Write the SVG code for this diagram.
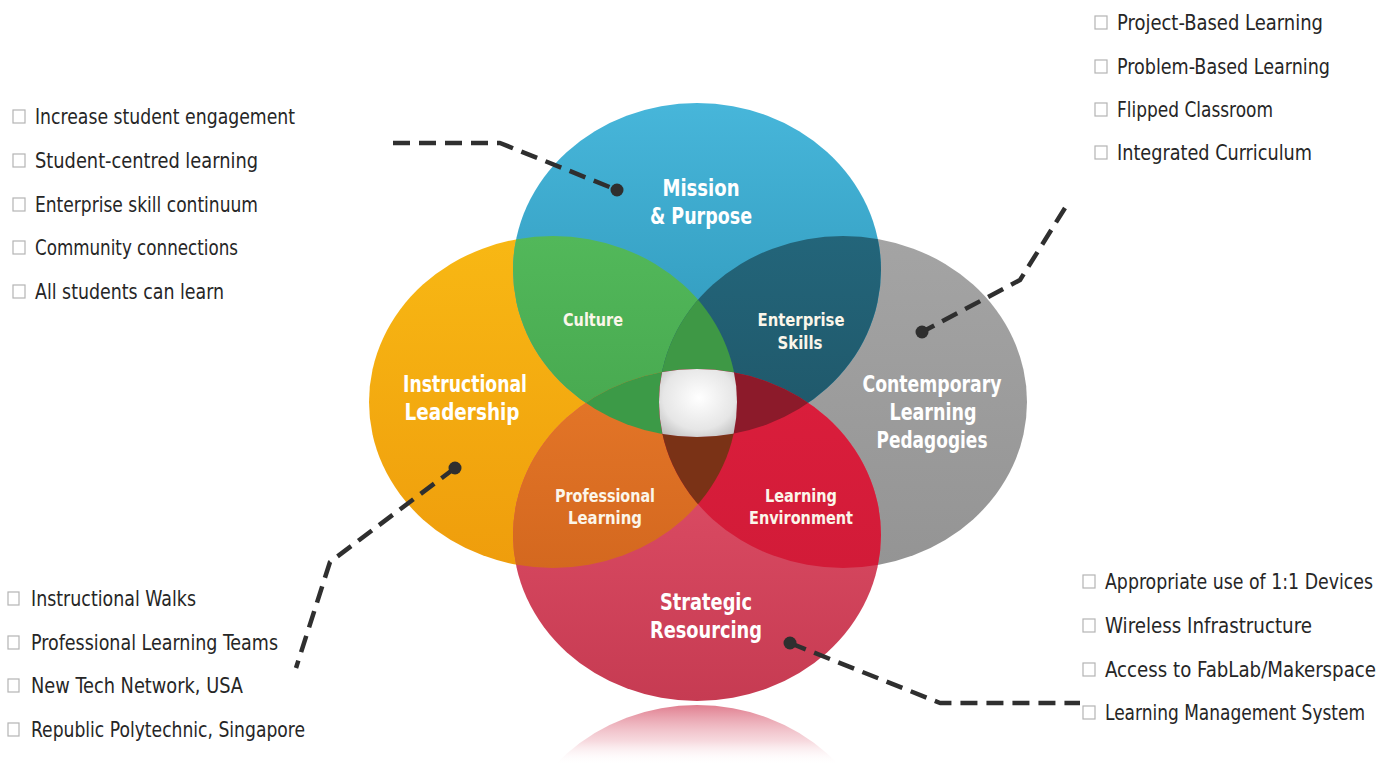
<svg xmlns="http://www.w3.org/2000/svg" width="1395" height="765" viewBox="0 0 1395 765">
  <style>
    .item { font-family: "DejaVu Sans Condensed", "DejaVu Sans", sans-serif; font-size: 21px; fill: #262626; }
    .box { fill: none; stroke: #b4b4b4; stroke-width: 1.2; }
    .big { font-family: "DejaVu Sans Condensed", "DejaVu Sans", sans-serif; font-weight: bold; font-size: 23px; fill: #ffffff; text-anchor: middle; }
    .small { font-family: "DejaVu Sans Condensed", "DejaVu Sans", sans-serif; font-weight: bold; font-size: 18.5px; fill: #fbf6ea; text-anchor: middle; }
    .dash { fill: none; stroke: #2f2f2f; stroke-width: 4.5; stroke-dasharray: 17 9; stroke-linejoin: round; }
    .dot { fill: #2f2f2f; }
  </style>
  <defs>
    <clipPath id="cT"><ellipse cx="697" cy="270" rx="184" ry="167"/></clipPath>
    <clipPath id="cL"><ellipse cx="553" cy="402" rx="184" ry="166"/></clipPath>
    <clipPath id="cR"><ellipse cx="843" cy="402" rx="184" ry="166"/></clipPath>
    <clipPath id="cB"><ellipse cx="697" cy="535" rx="184" ry="166"/></clipPath>
    <clipPath id="cRefl"><rect x="400" y="705" width="600" height="60"/></clipPath>

    <linearGradient id="gBlue" x1="0" y1="0" x2="0" y2="1">
      <stop offset="0" stop-color="#47b6da"/>
      <stop offset="1" stop-color="#2a91b3"/>
    </linearGradient>
    <linearGradient id="gOrange" x1="0" y1="0" x2="0" y2="1">
      <stop offset="0" stop-color="#f8b814"/>
      <stop offset="1" stop-color="#ef9d0c"/>
    </linearGradient>
    <linearGradient id="gGray" x1="0" y1="0" x2="0" y2="1">
      <stop offset="0" stop-color="#a4a4a4"/>
      <stop offset="1" stop-color="#949494"/>
    </linearGradient>
    <linearGradient id="gRed" x1="0" y1="0" x2="0" y2="1">
      <stop offset="0" stop-color="#e6536c"/>
      <stop offset="1" stop-color="#c63b52"/>
    </linearGradient>
    <linearGradient id="gGreen" x1="0" y1="0" x2="0" y2="1">
      <stop offset="0" stop-color="#52b85a"/>
      <stop offset="1" stop-color="#3f9c47"/>
    </linearGradient>
    <linearGradient id="gTeal" x1="0" y1="0" x2="0" y2="1">
      <stop offset="0" stop-color="#23657a"/>
      <stop offset="1" stop-color="#1d4e5e"/>
    </linearGradient>
    <linearGradient id="gProf" x1="0" y1="0" x2="0" y2="1">
      <stop offset="0" stop-color="#f1812f"/>
      <stop offset="1" stop-color="#d4681f"/>
    </linearGradient>
    <linearGradient id="gEnv" x1="0" y1="0" x2="0" y2="1">
      <stop offset="0" stop-color="#e1203f"/>
      <stop offset="1" stop-color="#d21b38"/>
    </linearGradient>
    <radialGradient id="gCore" cx="0.5" cy="0.42" r="0.68">
      <stop offset="0" stop-color="#ffffff"/>
      <stop offset="0.6" stop-color="#e6e6e6"/>
      <stop offset="1" stop-color="#b0b0b0"/>
    </radialGradient>
    <linearGradient id="gRefl" gradientUnits="userSpaceOnUse" x1="0" y1="705" x2="0" y2="765">
      <stop offset="0" stop-color="#dd7083" stop-opacity="0.9"/>
      <stop offset="0.6" stop-color="#eeb3bd" stop-opacity="0.5"/>
      <stop offset="1" stop-color="#ffffff" stop-opacity="0"/>
    </linearGradient>
  </defs>

  <rect width="1395" height="765" fill="#ffffff"/>

  <!-- mirrored reflection under the bottom circle -->
  <ellipse cx="697" cy="871" rx="184" ry="166" fill="url(#gRefl)" clip-path="url(#cRefl)"/>

  <!-- four main circles -->
  <g id="instructional-leadership">
    <ellipse cx="553" cy="402" rx="184" ry="166" fill="url(#gOrange)"/>
  </g>
  <g id="contemporary-learning-pedagogies">
    <ellipse cx="843" cy="402" rx="184" ry="166" fill="url(#gGray)"/>
  </g>
  <g id="mission-purpose">
    <ellipse cx="697" cy="270" rx="184" ry="167" fill="url(#gBlue)"/>
  </g>
  <g id="strategic-resourcing">
    <ellipse cx="697" cy="535" rx="184" ry="166" fill="url(#gRed)"/>
  </g>

  <!-- pairwise overlaps -->
  <g id="culture">
    <ellipse cx="553" cy="402" rx="184" ry="166" fill="url(#gGreen)" clip-path="url(#cT)"/>
  </g>
  <g id="enterprise-skills">
    <ellipse cx="843" cy="402" rx="184" ry="166" fill="url(#gTeal)" clip-path="url(#cT)"/>
  </g>
  <g id="professional-learning">
    <ellipse cx="553" cy="402" rx="184" ry="166" fill="url(#gProf)" clip-path="url(#cB)"/>
  </g>
  <g id="learning-environment">
    <ellipse cx="843" cy="402" rx="184" ry="166" fill="url(#gEnv)" clip-path="url(#cB)"/>
  </g>

  <!-- triple overlaps -->
  <g id="triple-top" clip-path="url(#cT)">
    <ellipse cx="553" cy="402" rx="184" ry="166" fill="#3e9845" clip-path="url(#cR)"/>
  </g>
  <g id="triple-left" clip-path="url(#cT)">
    <ellipse cx="553" cy="402" rx="184" ry="166" fill="#3c9a47" clip-path="url(#cB)"/>
  </g>
  <g id="triple-bottom" clip-path="url(#cL)">
    <ellipse cx="697" cy="535" rx="184" ry="166" fill="#7a3216" clip-path="url(#cR)"/>
  </g>
  <g id="triple-right" clip-path="url(#cT)">
    <ellipse cx="843" cy="402" rx="184" ry="166" fill="#8c1a2a" clip-path="url(#cB)"/>
  </g>

  <!-- core where all four meet -->
  <g id="core" clip-path="url(#cT)">
    <g clip-path="url(#cB)">
      <g clip-path="url(#cL)">
        <rect x="655" y="365" width="88" height="78" fill="url(#gCore)" clip-path="url(#cR)"/>
      </g>
    </g>
  </g>

  <!-- circle and overlap labels -->
  <g id="labels">
    <text class="big" x="701" y="196" textLength="77" lengthAdjust="spacingAndGlyphs">Mission</text>
    <text class="big" x="701" y="224" textLength="102" lengthAdjust="spacingAndGlyphs">&amp; Purpose</text>
    <text class="small" x="593" y="326" textLength="60" lengthAdjust="spacingAndGlyphs">Culture</text>
    <text class="small" x="801" y="326" textLength="87" lengthAdjust="spacingAndGlyphs">Enterprise</text>
    <text class="small" x="800" y="349" textLength="45" lengthAdjust="spacingAndGlyphs">Skills</text>
    <text class="big" x="465" y="392" textLength="124" lengthAdjust="spacingAndGlyphs">Instructional</text>
    <text class="big" x="462" y="420" textLength="115" lengthAdjust="spacingAndGlyphs">Leadership</text>
    <text class="big" x="932" y="392" textLength="139" lengthAdjust="spacingAndGlyphs">Contemporary</text>
    <text class="big" x="933" y="420" textLength="87" lengthAdjust="spacingAndGlyphs">Learning</text>
    <text class="big" x="932" y="448" textLength="111" lengthAdjust="spacingAndGlyphs">Pedagogies</text>
    <text class="small" x="605" y="502" textLength="100" lengthAdjust="spacingAndGlyphs">Professional</text>
    <text class="small" x="605" y="524" textLength="74" lengthAdjust="spacingAndGlyphs">Learning</text>
    <text class="small" x="801" y="502" textLength="72" lengthAdjust="spacingAndGlyphs">Learning</text>
    <text class="small" x="801" y="524" textLength="104" lengthAdjust="spacingAndGlyphs">Environment</text>
    <text class="big" x="706" y="610" textLength="92" lengthAdjust="spacingAndGlyphs">Strategic</text>
    <text class="big" x="706" y="638" textLength="112" lengthAdjust="spacingAndGlyphs">Resourcing</text>
  </g>

  <!-- dashed leader lines -->
  <g id="connectors">
    <polyline class="dash" points="393,143 500,143 617,190"/>
    <circle class="dot" cx="617" cy="190" r="6.5"/>
    <polyline class="dash" points="1065,208 1020,280 922,332"/>
    <circle class="dot" cx="922" cy="332" r="6.5"/>
    <polyline class="dash" points="455,468 330,562 296,668"/>
    <circle class="dot" cx="455" cy="468" r="6.5"/>
    <polyline class="dash" points="790,643 940,703 1080,703"/>
    <circle class="dot" cx="790" cy="643" r="6.5"/>
  </g>

  <!-- bullet lists -->
  <g id="list-mission">
    <rect class="box" x="13" y="110" width="12" height="13"/>
    <text class="item" x="35" y="124" textLength="260" lengthAdjust="spacingAndGlyphs">Increase student engagement</text>
    <rect class="box" x="13" y="154" width="12" height="13"/>
    <text class="item" x="35" y="168" textLength="223" lengthAdjust="spacingAndGlyphs">Student-centred learning</text>
    <rect class="box" x="13" y="198" width="12" height="13"/>
    <text class="item" x="35" y="212" textLength="223" lengthAdjust="spacingAndGlyphs">Enterprise skill continuum</text>
    <rect class="box" x="13" y="241" width="12" height="13"/>
    <text class="item" x="35" y="255" textLength="203" lengthAdjust="spacingAndGlyphs">Community connections</text>
    <rect class="box" x="13" y="285" width="12" height="13"/>
    <text class="item" x="35" y="299" textLength="189" lengthAdjust="spacingAndGlyphs">All students can learn</text>
  </g>

  <g id="list-pedagogies">
    <rect class="box" x="1095" y="16" width="12" height="13"/>
    <text class="item" x="1117" y="30" textLength="206" lengthAdjust="spacingAndGlyphs">Project-Based Learning</text>
    <rect class="box" x="1095" y="60" width="12" height="13"/>
    <text class="item" x="1117" y="74" textLength="213" lengthAdjust="spacingAndGlyphs">Problem-Based Learning</text>
    <rect class="box" x="1095" y="103" width="12" height="13"/>
    <text class="item" x="1117" y="117" textLength="156" lengthAdjust="spacingAndGlyphs">Flipped Classroom</text>
    <rect class="box" x="1095" y="146" width="12" height="13"/>
    <text class="item" x="1117" y="160" textLength="195" lengthAdjust="spacingAndGlyphs">Integrated Curriculum</text>
  </g>

  <g id="list-leadership">
    <rect class="box" x="8" y="592" width="11" height="13"/>
    <text class="item" x="31" y="606" textLength="165" lengthAdjust="spacingAndGlyphs">Instructional Walks</text>
    <rect class="box" x="8" y="636" width="11" height="13"/>
    <text class="item" x="31" y="650" textLength="247" lengthAdjust="spacingAndGlyphs">Professional Learning Teams</text>
    <rect class="box" x="8" y="679" width="11" height="13"/>
    <text class="item" x="31" y="693" textLength="212" lengthAdjust="spacingAndGlyphs">New Tech Network, USA</text>
    <rect class="box" x="8" y="723" width="11" height="13"/>
    <text class="item" x="31" y="737" textLength="274" lengthAdjust="spacingAndGlyphs">Republic Polytechnic, Singapore</text>
  </g>

  <g id="list-resourcing">
    <rect class="box" x="1083" y="575" width="12" height="13"/>
    <text class="item" x="1105" y="589" textLength="268" lengthAdjust="spacingAndGlyphs">Appropriate use of 1:1 Devices</text>
    <rect class="box" x="1083" y="619" width="12" height="13"/>
    <text class="item" x="1105" y="633" textLength="207" lengthAdjust="spacingAndGlyphs">Wireless Infrastructure</text>
    <rect class="box" x="1083" y="663" width="12" height="13"/>
    <text class="item" x="1105" y="677" textLength="271" lengthAdjust="spacingAndGlyphs">Access to FabLab/Makerspace</text>
    <rect class="box" x="1083" y="706" width="12" height="13"/>
    <text class="item" x="1105" y="720" textLength="260" lengthAdjust="spacingAndGlyphs">Learning Management System</text>
  </g>
</svg>
